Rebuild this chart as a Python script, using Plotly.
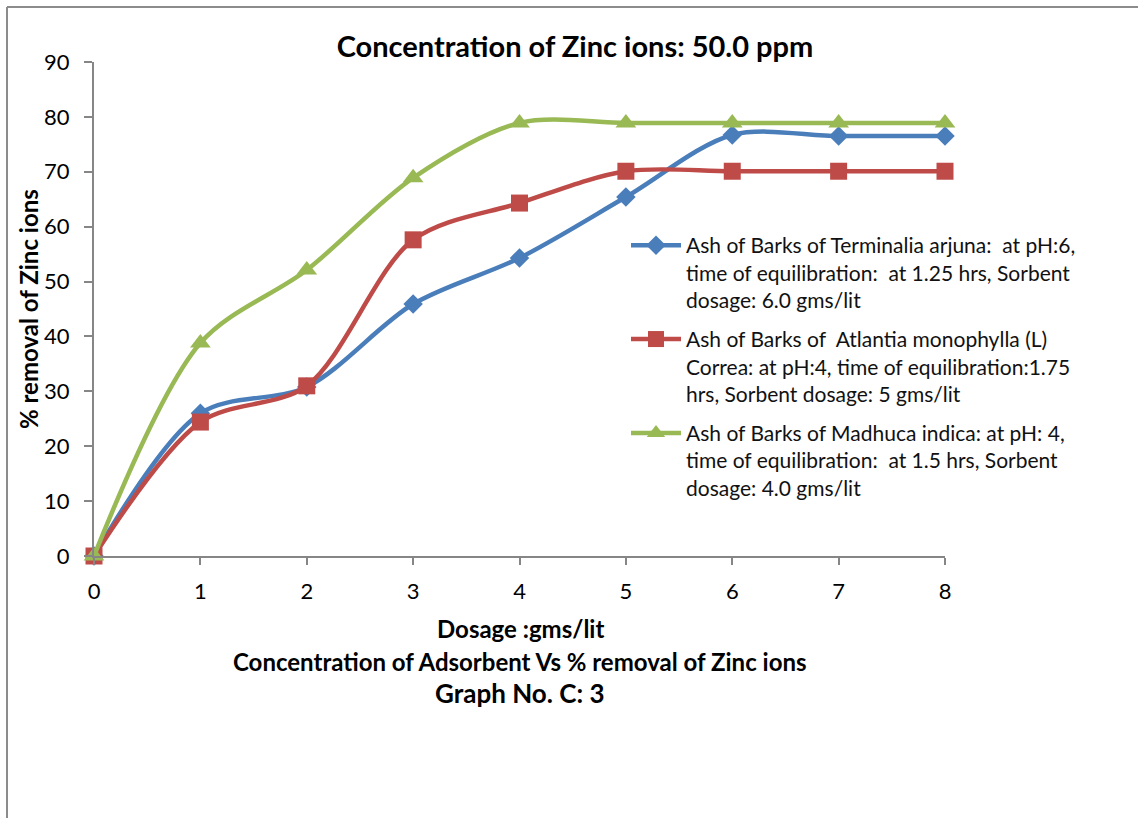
import plotly.graph_objects as go

dosage = [0, 1, 2, 3, 4, 5, 6, 7, 8]
terminalia = [0, 26.0, 30.8, 45.9, 54.3, 65.4, 76.7, 76.5, 76.5]
atlantia = [0, 24.4, 31.0, 57.6, 64.3, 70.1, 70.1, 70.1, 70.1]
madhuca = [0, 38.8, 52.1, 68.9, 78.9, 78.9, 78.9, 78.9, 78.9]

names = [
    "Ash of Barks of Terminalia arjuna:  at pH:6,<br>time of equilibration:  at 1.25 hrs, Sorbent<br>dosage: 6.0 gms/lit",
    "Ash of Barks of  Atlantia monophylla (L)<br>Correa: at pH:4, time of equilibration:1.75<br>hrs, Sorbent dosage: 5 gms/lit",
    "Ash of Barks of Madhuca indica: at pH: 4,<br>time of equilibration:  at 1.5 hrs, Sorbent<br>dosage: 4.0 gms/lit",
]
colors = ["#4A7EBB", "#BE4B48", "#98B954"]
symbols = ["diamond", "square", "triangle-up"]
sizes = [15, 17, 18]
series = [terminalia, atlantia, madhuca]

FONT = "Lato, Open Sans, sans-serif"

fig = go.Figure()
for i, (ys, nm, c, s, sz) in enumerate(zip(series, names, colors, symbols, sizes)):
    fig.add_trace(go.Scatter(
        x=dosage, y=ys, name=nm, mode="lines+markers",
        line=dict(color=c, width=4.5, shape="spline", smoothing=0.9),
        marker=dict(symbol=s, size=sz, color=c, line=dict(color=c, width=0)),
        cliponaxis=False, legendgroup=f"g{i}",
    ))

W, H = 1138, 818
L, R, T, B = 94, W - 945, 62, H - 556
ph = H - T - B
pw = W - L - R

def py(pix):
    return (H - B - pix) / ph

def px(pix):
    return (pix - L) / pw

annotations = [
    dict(text="<b>Dosage :gms/lit</b>", x=px(520), y=py(628), xref="paper", yref="paper",
         showarrow=False, font=dict(size=24, family=FONT, color="black"), xanchor="center", yanchor="middle"),
    dict(text="<b>Concentration of Adsorbent Vs % removal of Zinc ions</b>", x=px(520), y=py(661), xref="paper", yref="paper",
         showarrow=False, font=dict(size=24, family=FONT, color="black"), xanchor="center", yanchor="middle"),
    dict(text="<b>Graph No. C: 3</b>", x=px(520), y=py(693), xref="paper", yref="paper",
         showarrow=False, font=dict(size=26, family=FONT, color="black"), xanchor="center", yanchor="middle"),
    dict(text="<b>% removal of Zinc ions</b>", x=px(28), y=py(309), xref="paper", yref="paper", textangle=-90,
         showarrow=False, font=dict(size=24, family=FONT, color="black"), xanchor="center", yanchor="middle"),
]

fig.update_layout(
    width=W, height=H,
    margin=dict(l=L, r=R, t=T, b=B),
    paper_bgcolor="white", plot_bgcolor="white",
    font=dict(family=FONT, size=21, color="black"),
    title=dict(text="<b>Concentration of Zinc ions: 50.0 ppm</b>", x=575 / W, y=1 - 47 / H,
               xanchor="center", yanchor="middle", xref="container", yref="container",
               font=dict(size=29, family=FONT, color="black")),
    xaxis=dict(range=[0, 8], tickvals=dosage, showgrid=False, zeroline=False,
               showline=True, linecolor="#868686", linewidth=2, ticks="outside", ticklen=7,
               tickcolor="#868686", tickwidth=2, tickfont=dict(size=22, family=FONT),
               ticklabelstandoff=8),
    yaxis=dict(range=[0, 90], dtick=10, showgrid=False, zeroline=False,
               showline=True, linecolor="#868686", linewidth=2, ticks="outside", ticklen=8,
               tickcolor="#868686", tickwidth=2, tickfont=dict(size=22, family=FONT),
               ticklabelstandoff=10),
    legend=dict(x=px(626), y=py(225), xanchor="left", yanchor="top", bgcolor="rgba(0,0,0,0)",
                font=dict(size=21, family=FONT, color="#111"), tracegroupgap=9, itemwidth=50,
                valign="top"),
    annotations=annotations,
    shapes=[
        dict(type="line", xref="paper", yref="paper", x0=px(7), x1=px(W + 5), y0=py(7), y1=py(7),
             line=dict(color="#8C8C8C", width=2)),
        dict(type="line", xref="paper", yref="paper", x0=px(7), x1=px(7), y0=py(7), y1=py(H + 5),
             line=dict(color="#8C8C8C", width=2)),
    ],
)

fig.write_html("out.html")
